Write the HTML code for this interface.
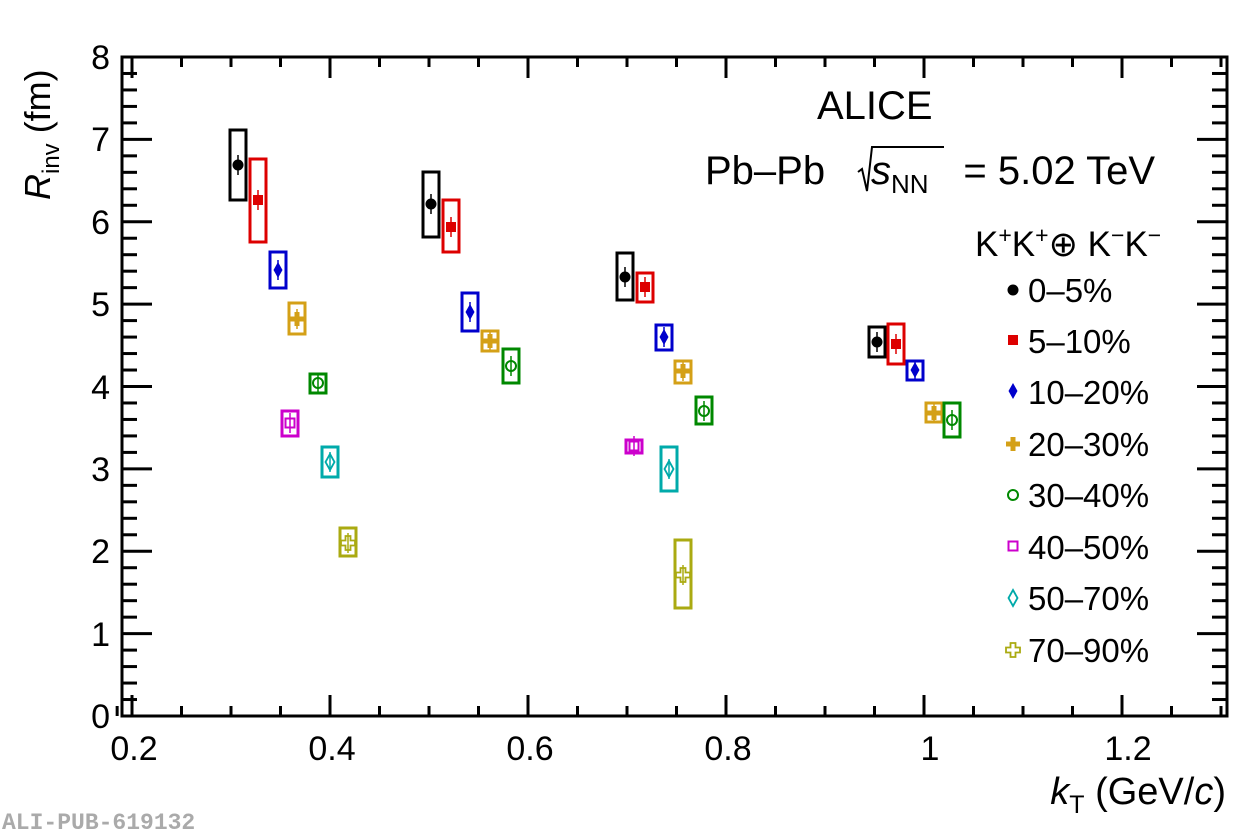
<!DOCTYPE html>
<html><head><meta charset="utf-8"><style>body{margin:0;background:#fff}svg{display:block}text{font-family:"Liberation Sans",sans-serif}</style></head><body>
<svg width="1257" height="835" viewBox="0 0 1257 835" xmlns="http://www.w3.org/2000/svg">
<g id="ax" stroke="#000" stroke-width="3" fill="none">
<rect x="122" y="57" width="1105" height="659"/>
</g>
<g id="ticks" stroke="#000" stroke-width="3"></g>
<g font-size="34" fill="#000">
<text x="110" y="728" text-anchor="end">0</text>
<text x="110" y="646" text-anchor="end">1</text>
<text x="110" y="563" text-anchor="end">2</text>
<text x="110" y="481" text-anchor="end">3</text>
<text x="110" y="399" text-anchor="end">4</text>
<text x="110" y="316" text-anchor="end">5</text>
<text x="110" y="234" text-anchor="end">6</text>
<text x="110" y="151" text-anchor="end">7</text>
<text x="110" y="69" text-anchor="end">8</text>
<text x="134" y="760" text-anchor="middle">0.2</text>
<text x="332" y="760" text-anchor="middle">0.4</text>
<text x="530" y="760" text-anchor="middle">0.6</text>
<text x="728" y="760" text-anchor="middle">0.8</text>
<text x="930" y="760" text-anchor="middle">1</text>
<text x="1128" y="760" text-anchor="middle">1.2</text>
</g>
<g font-size="38" fill="#000">
<text x="1226" y="804" text-anchor="end"><tspan font-style="italic">k</tspan><tspan font-size="25" dy="9">T</tspan><tspan dy="-9"> (GeV/</tspan><tspan font-style="italic">c</tspan>)</text>
<text transform="translate(50,200) rotate(-90)" font-size="36"><tspan font-style="italic">R</tspan><tspan font-size="24" dy="9">inv</tspan><tspan dy="-9"> (fm)</tspan></text>
<text x="817" y="119" font-size="40">ALICE</text>
<text x="705" y="184" font-size="40">Pb–Pb</text>
<text x="871" y="184" font-size="40"><tspan font-style="italic">s</tspan><tspan font-size="26" dy="9">NN</tspan></text>
<text x="1155" y="184" font-size="40" text-anchor="end">= 5.02 TeV</text>
<text x="975" y="256" font-size="35">K<tspan font-size="23" dy="-13">+</tspan><tspan dy="13">K</tspan><tspan font-size="23" dy="-13">+</tspan><tspan dy="13">⊕ K</tspan><tspan font-size="23" dy="-13">−</tspan><tspan dy="13">K</tspan><tspan font-size="23" dy="-13">−</tspan></text>
</g>
<g font-size="33" fill="#000">
<text x="1028" y="302">0–5%</text>
<text x="1028" y="353">5–10%</text>
<text x="1028" y="404">10–20%</text>
<text x="1028" y="456">20–30%</text>
<text x="1028" y="507">30–40%</text>
<text x="1028" y="559">40–50%</text>
<text x="1028" y="610">50–70%</text>
<text x="1028" y="662">70–90%</text>
</g>
<path d="M858,172 l4,-3 l5,22 l5,-44 h72" stroke="#000" stroke-width="2" fill="none"/>
<text x="2" y="829" font-size="23" font-weight="bold" fill="#aaa" style="font-family:'Liberation Mono',monospace">ALI-PUB-619132</text>
<g id="data" stroke-width="3" fill="none"></g>
<g id="leg"></g>
<script>
const ns="http://www.w3.org/2000/svg";
function el(p,t,a){const e=document.createElementNS(ns,t);for(const k in a)e.setAttribute(k,a[k]);p.appendChild(e);return e;}
const tk=document.getElementById('ticks');
const X=v=>132+(v-0.2)*990, Y=v=>716-82.375*v;
for(let i=0;i<=40;i++){const y=Y(i*0.2);const L=i%5==0?30:15;el(tk,'line',{x1:122,x2:122+L,y1:y,y2:y});el(tk,'line',{x1:1227,x2:1227-L,y1:y,y2:y});}
for(let i=0;;i++){const v=0.2+i*0.05;const x=X(v);if(x>1227)break;const L=i%4==0?21:10;el(tk,'line',{x1:x,x2:x,y1:716,y2:716-L});el(tk,'line',{x1:x,x2:x,y1:57,y2:57+L});}
el(tk,'line',{x1:X(0.185),x2:X(0.185),y1:716,y2:706});
const C={k:'#000',r:'#d00',b:'#00c',g:'#d4a017',gr:'#080',m:'#c0c',c:'#0aa',o:'#aa1'};
const D=[
['k',238,165,130,200],['r',258,200,159,242],['b',278,270,252,288],['g',297,319,303,334],['gr',318,383,374,393],['m',290,423,411,436],['c',330,462,447,477],['o',348,543,528,556],
['k',431,204,172,237],['r',451,227,200,252],['b',470,312,293,331],['g',490,341,331,351],['gr',511,366,349,383],
['k',625,277,253,300],['r',645,287,273,302],['b',664,337,325,350],['g',683,371,361,383],['gr',704,411,397,424],['m',634,446,440,453],['c',669,469,447,491],['o',683,575,540,608],
['k',877,342,327,357],['r',896,344,324,364],['b',915,370,361,380],['g',934,413,403,422],['gr',952,420,403,437]];
const dg=document.getElementById('data');
function mk(g,t,x,y){const c=C[t];
if(t=='k')el(g,'circle',{cx:x,cy:y,r:5.5,fill:c});
if(t=='r')el(g,'rect',{x:x-5,y:y-5,width:10,height:10,fill:c});
if(t=='b')el(g,'path',{d:`M${x},${y-8}L${x+4.5},${y}L${x},${y+8}L${x-4.5},${y}Z`,fill:c});
if(t=='g')el(g,'path',{d:`M${x-2.5},${y-7}h5v4.5h4.5v5h-4.5v4.5h-5v-4.5h-4.5v-5h4.5Z`,fill:c});
if(t=='gr')el(g,'circle',{cx:x,cy:y,r:5,fill:'none',stroke:c,'stroke-width':2});
if(t=='m')el(g,'rect',{x:x-4.5,y:y-4.5,width:9,height:9,fill:'none',stroke:c,'stroke-width':2});
if(t=='c')el(g,'path',{d:`M${x},${y-8}L${x+4.5},${y}L${x},${y+8}L${x-4.5},${y}Z`,fill:'none',stroke:c,'stroke-width':1.8});
if(t=='o')el(g,'path',{d:`M${x-2.5},${y-7}h5v4.5h4.5v5h-4.5v4.5h-5v-4.5h-4.5v-5h4.5Z`,fill:'none',stroke:c,'stroke-width':1.8});
}
for(const [t,x,y,t1,b1] of D){const c=C[t];
el(dg,'rect',{x:x-8,y:t1,width:16,height:b1-t1,stroke:c});
el(dg,'line',{x1:x,x2:x,y1:y-10,y2:y+10,stroke:c,'stroke-width':1.5});
mk(dg,t,x,y);}
const lg=document.getElementById('leg');
['k','r','b','g','gr','m','c','o'].forEach((t,i)=>mk(lg,t,1013,[290,340,391,444,495,546,598,650][i]));
</script>
</svg>
</body></html>
